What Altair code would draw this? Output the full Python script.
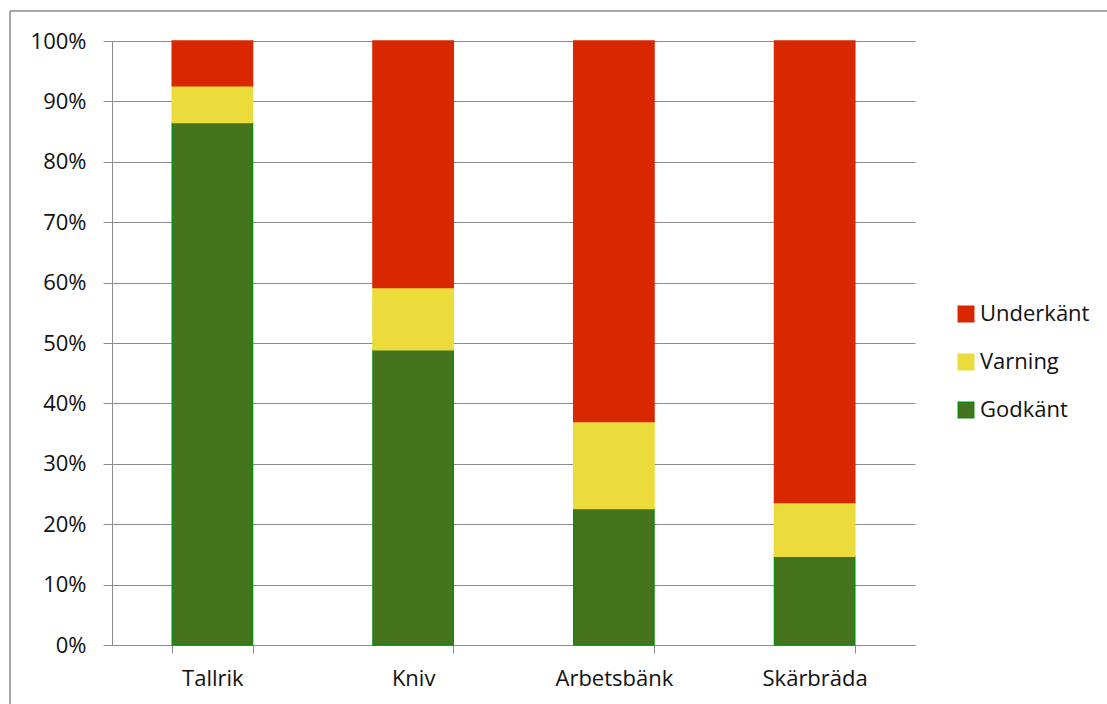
import altair as alt
import pandas as pd

# Share of results per surface, in percent
categories = ["Tallrik", "Kniv", "Arbetsbänk", "Skärbräda"]
godkant = [86.5, 48.9, 22.6, 14.7]
varning = [6.1, 10.3, 14.4, 8.9]
underkant = [7.4, 40.8, 63.0, 76.4]

statuses = ["Underkänt", "Varning", "Godkänt"]
fill_colors = ["#d92800", "#ebdc3c", "#46731e"]
stroke_colors = ["#d92800", "#ebdc3c", "#0f8c12"]
stack_rank = {"Godkänt": 0, "Varning": 1, "Underkänt": 2}

rows = []
for i, cat in enumerate(categories):
    for status, vals in (("Godkänt", godkant), ("Varning", varning), ("Underkänt", underkant)):
        rows.append({"yta": cat, "status": status, "andel": vals[i], "rank": stack_rank[status]})
df = pd.DataFrame(rows)

FONT = "Open Sans"
GRID = "#8c8c8c"

legend_style = dict(
    orient="none",
    legendX=843,
    legendY=262,
    symbolType="square",
    symbolSize=240,
    symbolOpacity=1,
    symbolStrokeWidth=1.5,
    labelFontSize=22,
    labelFont=FONT,
    labelColor="#111111",
    labelOffset=3,
    rowPadding=26,
    padding=0,
)

bars = alt.Chart(df).mark_bar(strokeWidth=1.5).encode(
    x=alt.X(
        "yta:N",
        sort=categories,
        title=None,
        scale=alt.Scale(paddingInner=0.6, paddingOuter=0.3),
        axis=alt.Axis(
            labelAngle=0,
            tickBand="extent",
            tickSize=8,
            tickColor=GRID,
            domainColor=GRID,
            labelPadding=15,
            labelFontSize=22,
            labelFont=FONT,
            labelColor="#111111",
            grid=False,
        ),
    ),
    y=alt.Y(
        "andel:Q",
        stack="zero",
        title=None,
        scale=alt.Scale(domain=[0, 100], nice=False),
        axis=alt.Axis(
            values=list(range(0, 101, 10)),
            labelExpr="datum.value + '%'",
            tickSize=9,
            tickColor=GRID,
            domainColor=GRID,
            gridColor=GRID,
            gridWidth=1.2,
            labelPadding=17,
            labelFontSize=22,
            labelFont=FONT,
            labelColor="#111111",
        ),
    ),
    color=alt.Color(
        "status:N",
        scale=alt.Scale(domain=statuses, range=fill_colors),
        title=None,
        legend=alt.Legend(**legend_style),
    ),
    stroke=alt.Stroke(
        "status:N",
        scale=alt.Scale(domain=statuses, range=stroke_colors),
        title=None,
        legend=alt.Legend(**legend_style),
    ),
    order=alt.Order("rank:Q"),
)

# Outer frame of the chart area (left and top edges)
frame_src = alt.Data(values=[{"k": 1}])
frame_left = alt.Chart(frame_src).mark_rule(color="#8a8a8a", strokeWidth=1.5).encode(
    x=alt.value(-102), y=alt.value(-30), y2=alt.value(700)
)
frame_top = alt.Chart(frame_src).mark_rule(color="#8a8a8a", strokeWidth=1.5).encode(
    x=alt.value(-102), x2=alt.value(1000), y=alt.value(-30)
)

chart = (
    alt.layer(bars, frame_left, frame_top)
    .properties(
        width=803,
        height=604,
        autosize=alt.AutoSizeParams(type="none"),
        padding={"left": 112, "top": 41, "right": 192, "bottom": 59},
        background="white",
    )
    .configure_view(stroke=None)
)

chart.save("out.html", embed_options={"renderer": "svg", "actions": False})
